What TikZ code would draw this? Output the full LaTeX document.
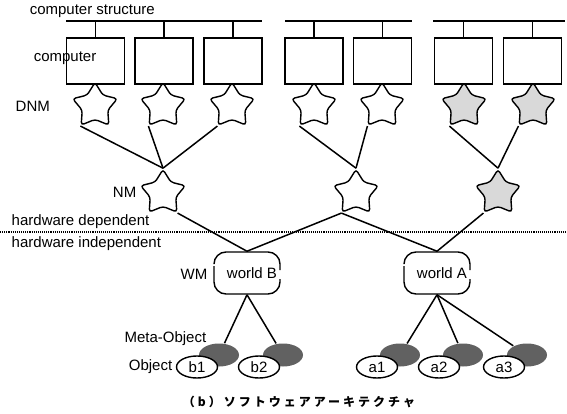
\documentclass[tikz,border=0pt]{standalone}
\usepackage{fontspec}
\setmainfont{Liberation Sans}
\newfontfamily\cjk[LetterSpace=25]{Noto Sans CJK JP}
\usetikzlibrary{shapes.geometric}
\begin{document}
\begin{tikzpicture}[x=1pt,y=-1pt,line width=1.5pt,
  font=\fontsize{15}{17}\selectfont,
  comp/.style={draw,line width=1.4pt,minimum width=58pt,minimum height=46pt,inner sep=0pt},
  starnode/.style={star,star points=5,star point ratio=1.75,minimum size=47pt,
    inner sep=0pt,draw,line width=1.4pt,fill=white,rounded corners=3pt},
  stipple/.style={fill=black!15},
  lab/.style={inner sep=0pt},
  meta/.style={ellipse,minimum width=40pt,minimum height=23pt,inner sep=0pt,fill=black!62},
  obj/.style={ellipse,draw,line width=1.4pt,fill=white,minimum width=41pt,minimum height=22pt,inner sep=0pt},
  world/.style={minimum width=66pt,minimum height=42pt,inner sep=0pt},
  outline/.style={line width=1.4pt}]
\useasboundingbox (0,0) rectangle (567,414);

% labels
\node[lab,anchor=west] (tcs) at (29,11) {computer structure};
\node[lab,anchor=west] (tdnm) at (15,106) {DNM};
\node[lab,anchor=east] (tnm) at (137,192) {NM};
\node[lab,anchor=west] (thd) at (11,222) {hardware dependent};
\node[lab,anchor=west] (thi) at (11,244) {hardware independent};
\node[lab,anchor=east] (twm) at (208,274) {WM};
\node[lab,anchor=east] (tmo) at (207,339) {Meta-Object};
\node[lab,anchor=east] (tob) at (173,367) {Object};

% separator
\coordinate (sepL) at (0,232);
\coordinate (sepR) at (567,232);
\draw[densely dotted,line width=1.1pt] (sepL) -- (sepR);

% buses
\coordinate (b1l) at (66,21);  \coordinate (b1r) at (262,21);
\coordinate (b2l) at (285,21); \coordinate (b2r) at (412,21);
\coordinate (b3l) at (433,21); \coordinate (b3r) at (565,21);
\draw (b1l) -- (b1r);
\draw (b2l) -- (b2r);
\draw (b3l) -- (b3r);

% computers
\node[comp] (c1) at (95.5,61) {};
\node[comp] (c2) at (164,61) {};
\node[comp] (c3) at (233,61) {};
\node[comp] (c4) at (314,61) {};
\node[comp] (c5) at (382.5,61) {};
\node[comp] (c6) at (463.5,61) {};
\node[comp] (c7) at (532.5,61) {};
\draw (c1.north) -- (c1.north |- b1l);
\draw (c2.north) -- (c2.north |- b1l);
\draw (c3.north) -- (c3.north |- b1l);
\draw (c4.north) -- (c4.north |- b2l);
\draw (c5.north) -- (c5.north |- b2l);
\draw (c6.north) -- (c6.north |- b3l);
\draw (c7.north) -- (c7.north |- b3l);
\node[lab,anchor=west] (tcomp) at (33,58) {computer};

% DNM stars
\node[starnode] (d1) at (95,106) {};
\node[starnode] (d2) at (163,106) {};
\node[starnode] (d3) at (232,106) {};
\node[starnode] (d4) at (314,106) {};
\node[starnode] (d5) at (382,106) {};
\node[starnode,stipple] (d6) at (464,106) {};
\node[starnode,stipple] (d7) at (533,106) {};

% NM stars
\node[starnode] (n1) at (163,193) {};
\node[starnode] (n2) at (356,193) {};
\node[starnode,stipple] (n3) at (498,193) {};

\draw (d1.outer point 3) -- (n1.outer point 1);
\draw (d2.outer point 3) -- (n1.outer point 1);
\draw (d3.outer point 3) -- (n1.outer point 1);
\draw (d4.outer point 3) -- (n2.outer point 1);
\draw (d5.outer point 3) -- (n2.outer point 1);
\draw (d6.outer point 3) -- (n3.outer point 1);
\draw (d7.outer point 3) -- (n3.outer point 1);

% worlds
\node[world] (wB) at (247,273) {};
\node[world] (wA) at (437,273) {};
\node[lab] (wBt) at (252,273) {world B};
\node[lab] (wAt) at (442,273) {world A};
\draw[outline,rounded corners=12pt] (280,270) -- (280,252) -- (214,252) -- (214,263);
\draw[outline,rounded corners=12pt] (214,266) -- (214,294) -- (280,294) -- (280,279);
\draw[outline,rounded corners=12pt] (470,270) -- (470,252) -- (404,252) -- (404,263);
\draw[outline,rounded corners=12pt] (404,266) -- (404,294) -- (470,294) -- (470,279);

\draw (n1.outer point 4) -- (wB.north);
\draw (n2.outer point 3) -- (wB.north);
\draw (n2.outer point 3) -- (wA.north);
\draw (n3.outer point 3) -- (wA.north);

% meta objects and objects
\node[meta] (mb1) at (219,355) {};
\node[meta] (mb2) at (283,355) {};
\node[meta] (ma1) at (400,355) {};
\node[meta] (ma2) at (463,355) {};
\node[meta] (ma3) at (527,355) {};
\node[obj] (ob1) at (197,367) {b1};
\node[obj] (ob2) at (259,367) {b2};
\node[obj] (oa1) at (377,367) {a1};
\node[obj] (oa2) at (439,367) {a2};
\node[obj] (oa3) at (504,367) {a3};

\draw (wB.south) -- (mb1);
\draw (wB.south) -- (mb2);
\draw (wA.south) -- (ma1);
\draw (wA.south) -- (ma2);
\draw (wA.south) -- (ma3);

% caption
\node[lab] (cap) at (299,402) {\cjk\bfseries\fontsize{12}{14}\selectfont （b）ソフトウェアアーキテクチャ};
\end{tikzpicture}
\end{document}
